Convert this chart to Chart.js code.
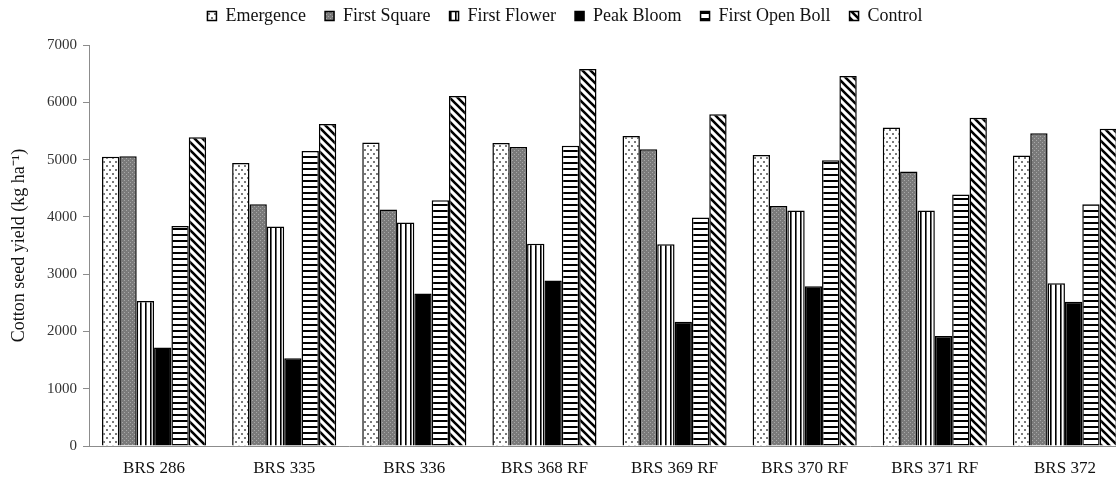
<!DOCTYPE html>
<html>
<head>
<meta charset="utf-8">
<script src="https://cdn.jsdelivr.net/npm/chart.js@4"></script>
<style>
  html, body { margin: 0; padding: 0; background: #fff; overflow: hidden; }
</style>
</head>
<body>
<canvas id="chart" width="1132" height="477"></canvas>
<script>
// Datos (kg/ha)
const categories = ["BRS 286", "BRS 335", "BRS 336", "BRS 368 RF", "BRS 369 RF", "BRS 370 RF", "BRS 371 RF", "BRS 372"];
const emergence   = [5050, 4940, 5300, 5290, 5410, 5080, 5560, 5070];
const firstSquare = [5060, 4220, 4130, 5220, 5180, 4190, 4790, 5460];
const firstFlower = [2530, 3830, 3900, 3530, 3520, 4110, 4110, 2840];
const peakBloom   = [1720, 1530, 2660, 2890, 2170, 2790, 1920, 2520];
const firstOpenBoll = [3840, 5150, 4290, 5240, 3990, 4990, 4390, 4220];
const control     = [5390, 5620, 6110, 6580, 5790, 6460, 5730, 5540];
const yTicks = [0, 1000, 2000, 3000, 4000, 5000, 6000, 7000];

const serif = "'Liberation Serif', 'Times New Roman', serif";

// Tramas para las barras
function makePattern(w, h, draw) {
  const c = document.createElement("canvas");
  c.width = w;
  c.height = h;
  const g = c.getContext("2d");
  draw(g, w, h);
  return g.createPattern(c, "repeat");
}

const ctx = document.getElementById("chart").getContext("2d");

const dotted = makePattern(6, 8, (g, w, h) => {
  g.fillStyle = "#fff";
  g.fillRect(0, 0, w, h);
  g.fillStyle = "#7a7a7a";
  g.fillRect(1, 1, 2, 2);
  g.fillRect(4, 5, 2, 2);
});

const greyDots = makePattern(4, 4, (g, w, h) => {
  g.fillStyle = "#7a7a7a";
  g.fillRect(0, 0, w, h);
  g.fillStyle = "#a8a8a8";
  g.fillRect(0, 0, 1, 1);
  g.fillRect(2, 2, 1, 1);
});

const vertical = makePattern(5, 4, (g, w, h) => {
  g.fillStyle = "#fff";
  g.fillRect(0, 0, w, h);
  g.fillStyle = "#000";
  g.fillRect(0, 0, 1.6, h);
});

const horizontal = makePattern(4, 6, (g, w, h) => {
  g.fillStyle = "#fff";
  g.fillRect(0, 0, w, h);
  g.fillStyle = "#000";
  g.fillRect(0, 0, w, 2);
});

const diagonal = makePattern(8, 8, (g, w, h) => {
  g.fillStyle = "#fff";
  g.fillRect(0, 0, w, h);
  g.strokeStyle = "#000";
  g.lineWidth = 2.6;
  g.beginPath();
  g.moveTo(-2, -2); g.lineTo(w + 2, h + 2);
  g.moveTo(-2, h - 2); g.lineTo(2, h + 2);
  g.moveTo(w - 2, -2); g.lineTo(w + 2, 2);
  g.stroke();
});

function series(label, data, fill) {
  return {
    label: label,
    data: data,
    backgroundColor: fill,
    borderColor: "#000",
    borderWidth: 1.5,
    categoryPercentage: 0.8,
    barPercentage: 1.0
  };
}

// la leyenda va pegada arriba; se fija su alto para que el area empiece en y=45
const legendHeight = {
  id: "legendHeight",
  afterInit(chart) {
    const lg = chart.legend;
    const fit = lg.fit.bind(lg);
    lg.fit = function () {
      fit();
      this.height = 57;
    };
  }
};

new Chart(ctx, {
  type: "bar",
  data: {
    labels: categories,
    datasets: [
      series("Emergence", emergence, dotted),
      series("First Square", firstSquare, greyDots),
      series("First Flower", firstFlower, vertical),
      series("Peak Bloom", peakBloom, "#000"),
      series("First Open Boll", firstOpenBoll, horizontal),
      series("Control", control, diagonal)
    ]
  },
  plugins: [legendHeight],
  options: {
    responsive: false,
    animation: false,
    devicePixelRatio: 1,
    layout: { padding: { top: -12, right: 2, left: 0, bottom: 0 } },
    plugins: {
      legend: {
        position: "top",
        labels: {
          font: { family: serif, size: 18 },
          color: "#111",
          boxWidth: 9,
          boxHeight: 9,
          padding: 19
        }
      },
      tooltip: { enabled: false }
    },
    scales: {
      x: {
        grid: { display: false },
        border: { display: true, color: "#8c8c8c", width: 1 },
        ticks: { font: { family: serif, size: 17 }, color: "#111", padding: 4 },
        afterFit: (s) => { s.height = 31; }
      },
      y: {
        min: 0,
        max: 7000,
        afterBuildTicks: (s) => { s.ticks = yTicks.map(v => ({ value: v })); },
        ticks: {
          font: { family: serif, size: 15 },
          color: "#333",
          padding: 6,
          callback: (v) => String(v)
        },
        grid: { drawOnChartArea: false, tickLength: 6, color: "#8c8c8c" },
        border: { color: "#8c8c8c", width: 1 },
        title: {
          display: true,
          text: "Cotton seed yield (kg ha\u207B\u00B9)",
          font: { family: serif, size: 18 },
          color: "#111",
          padding: { top: 8, bottom: 0 }
        },
        afterFit: (s) => { s.width = 89; }
      }
    }
  }
});
</script>
</body>
</html>
